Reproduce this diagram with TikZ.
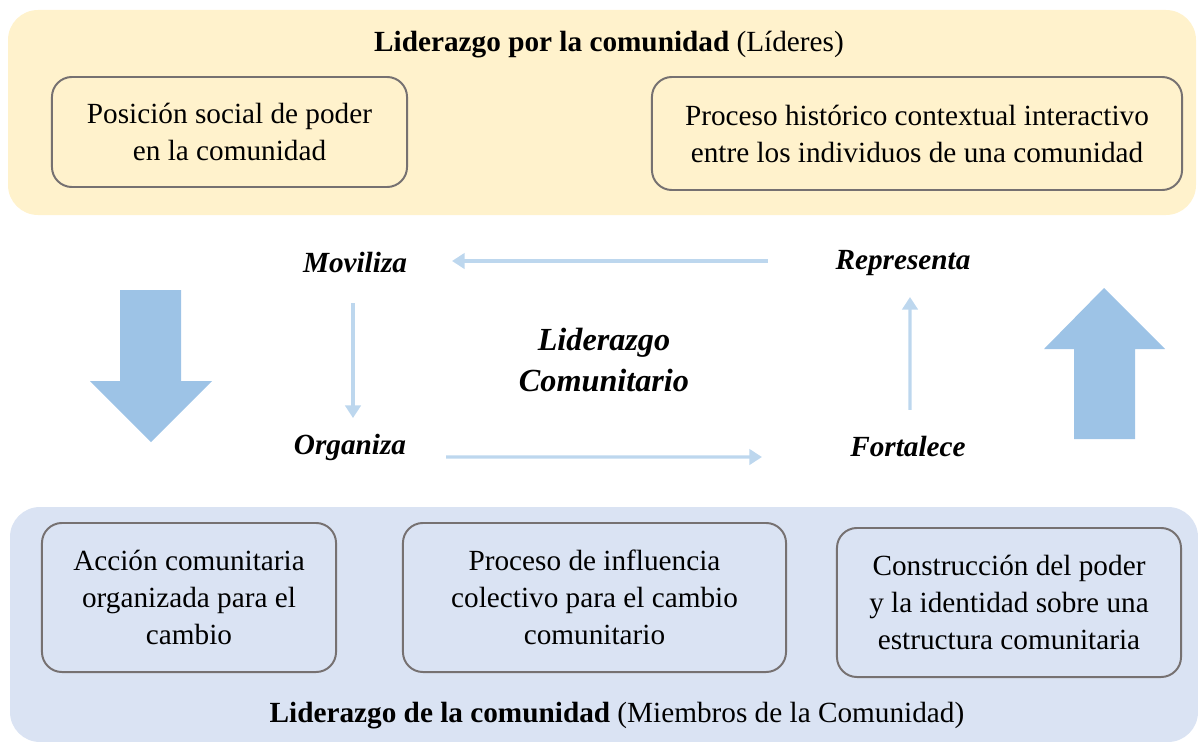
\documentclass[tikz,border=0pt]{standalone}
\usepackage{fontspec}
\setmainfont{Liberation Serif}
\usetikzlibrary{arrows.meta}
\definecolor{panelyellow}{HTML}{FFF2CC}
\definecolor{panelblue}{HTML}{DAE3F3}
\definecolor{boxgray}{HTML}{767171}
\definecolor{flowblue}{HTML}{BDD7EE}
\definecolor{bigblue}{HTML}{9DC3E6}

\begin{document}
\begin{tikzpicture}[x=0.025cm, y=-0.025cm, font=\fontsize{20.8}{26.3}\selectfont,
		box/.style = {draw=boxgray, line width=1.4pt, rounded corners=0.5cm, align=center, inner sep=0pt},
		verb/.style = {font=\fontsize{20.8}{26.3}\selectfont\bfseries\itshape, align=center},
		flow/.style = {draw=flowblue, line width=2.2pt, -{Triangle[length=9pt,width=11pt]}}]
			\useasboundingbox (0,0) rectangle (1198,742);
			% panels
			\fill[panelyellow, rounded corners=0.75cm] (8,10) rectangle (1196,215);
			\fill[panelblue, rounded corners=0.75cm] (10,507) rectangle (1198,742);
			\node (top) at (609,45) {\textbf{Liderazgo por la comunidad} (Líderes)};
			\node (bottom) at (617,716) {\textbf{Liderazgo de la comunidad} (Miembros de la Comunidad)};
			\node[box, minimum width=8.875cm, minimum height=2.75cm] (posicion) at (229.5,132) {Posición social de poder\\en la comunidad};
			\node[box, minimum width=13.25cm, minimum height=2.825cm] (proceso) at (917,133.5) {Proceso histórico contextual interactivo\\entre los individuos de una comunidad};
			\node[box, minimum width=7.35cm, minimum height=3.725cm] (accion) at (189,597.5) {Acción comunitaria\\organizada para el\\cambio};
			\node[box, minimum width=9.575cm, minimum height=3.725cm] (influencia) at (594.5,597.5) {Proceso de influencia\\colectivo para el cambio\\comunitario};
			\node[box, minimum width=8.6cm, minimum height=3.725cm] (construccion) at (1009,602.5) {Construcción del poder\\y la identidad sobre una\\estructura comunitaria};
			% cycle
			\node[verb] (moviliza) at (355,263) {Moviliza};
			\node[verb] (organiza) at (350,447) {Organiza};
			\node[verb] (representa) at (903,263) {Representa};
			\node[verb] (fortalece) at (908,446) {Fortalece};
			\node[verb, font=\fontsize{22.9}{28}\selectfont\bfseries\itshape] (liderazgo) at (604,360) {Liderazgo\\[1pt]Comunitario};
			\draw[flow] ([xshift=-3.375cm,yshift=0.05cm]representa.center) -- ([xshift=2.425cm,yshift=0.05cm]moviliza.center);
			\draw[flow] ([xshift=-0.05cm,yshift=-1cm]moviliza.center) -- ([xshift=-0.05cm,yshift=-3.875cm]moviliza.center);
			\draw[flow] ([xshift=2.4cm,yshift=-0.25cm]organiza.center) -- ([xshift=-3.65cm,yshift=-0.275cm]fortalece.center);
			\draw[flow] ([xshift=0.05cm,yshift=0.9cm]fortalece.center) -- ([xshift=0.175cm,yshift=-0.85cm]representa.center);
			% big arrows
			\fill[bigblue] (120,290) -- (181,290) -- (181,381) -- (212,381) -- (151,442) -- (90,381) -- (120,381) -- cycle;
			\fill[bigblue] (1074,439) -- (1135,439) -- (1135,349) -- (1165,349) -- (1104,288) -- (1044,349) -- (1074,349) -- cycle;
		\end{tikzpicture}
\end{document}
